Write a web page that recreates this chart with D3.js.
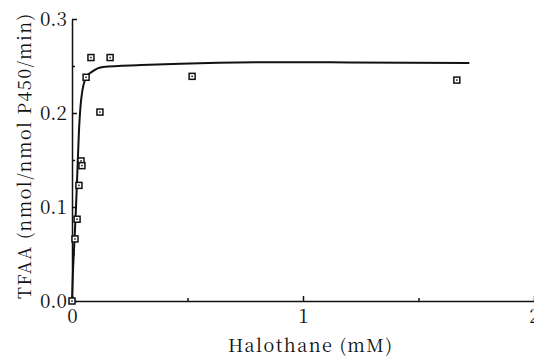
<!DOCTYPE html>
<html>
<head>
<meta charset="utf-8">
<script src="https://cdn.jsdelivr.net/npm/d3@7"></script>
<style>
  body { margin: 0; background: #fff; }
  svg { display: block; }
  .domain, .tick line { stroke: #111; stroke-width: 1.5; }
</style>
</head>
<body>
<div id="chart"></div>
<script>
// Halothane concentration (mM) and TFAA rate for each measured point
var halothane = [0, 0.013, 0.022, 0.030, 0.039, 0.043, 0.061, 0.082, 0.121, 0.165, 0.52, 1.666];
var tfaa = [0, 0.066, 0.087, 0.123, 0.149, 0.144, 0.238, 0.259, 0.201, 0.259, 0.239, 0.235];

// fitted curve
var fitX = [0, 0.004, 0.011, 0.017, 0.022, 0.030, 0.040, 0.061, 0.087, 0.134, 0.30, 0.47, 0.9, 1.2, 1.72];
var fitY = [0, 0.030, 0.066, 0.098, 0.129, 0.180, 0.215, 0.238, 0.244, 0.249, 0.251, 0.2525, 0.254, 0.2538, 0.2533];

var xTicks = [0, 1, 2];
var xMinorTicks = [0.5, 1.5];
var yTicks = [0, 0.1, 0.2, 0.3];
var yMinorTicks = [0.05, 0.15, 0.25];

var svgWidth = 534;
var svgHeight = 356;
var serif = "Noto Serif CJK JP";

var svg = d3.select("#chart")
  .append("svg")
  .attr("width", svgWidth)
  .attr("height", svgHeight);

var xScale = d3.scaleLinear()
  .domain([0, 2])
  .range([72, 534]);

var yScale = d3.scaleLinear()
  .domain([0, 0.3])
  .range([301, 19]);

// bottom axis, ticks pointing up into the plot
var xAxisG = svg.append("g")
  .attr("transform", `translate(0, ${yScale(0)})`)
  .call(d3.axisBottom(xScale).tickValues(xTicks).tickFormat(d3.format("d"))
    .tickSizeInner(-5).tickSizeOuter(0).tickPadding(8));
xAxisG.attr("font-family", serif).attr("font-size", 19);
xAxisG.selectAll("text").attr("fill", "#111");

svg.append("g")
  .attr("transform", `translate(0, ${yScale(0)})`)
  .call(d3.axisBottom(xScale).tickValues(xMinorTicks).tickFormat("")
    .tickSizeInner(-3).tickSizeOuter(0))
  .select(".domain").remove();

// left axis, ticks pointing right
var yAxisG = svg.append("g")
  .attr("transform", `translate(${xScale(0)}, 0)`)
  .call(d3.axisLeft(yScale).tickValues(yTicks).tickFormat(d3.format(".1f"))
    .tickSizeInner(-5).tickSizeOuter(0).tickPadding(5));
yAxisG.attr("font-family", serif).attr("font-size", 19);
yAxisG.selectAll("text").attr("fill", "#111");

svg.append("g")
  .attr("transform", `translate(${xScale(0)}, 0)`)
  .call(d3.axisLeft(yScale).tickValues(yMinorTicks).tickFormat("")
    .tickSizeInner(-3).tickSizeOuter(0))
  .select(".domain").remove();

// axis titles
svg.append("text")
  .attr("font-family", serif)
  .attr("font-size", 18)
  .attr("fill", "#111")
  .attr("x", 228)
  .attr("y", 352)
  .attr("textLength", 164)
  .attr("lengthAdjust", "spacing")
  .text("Halothane (mM)");

svg.append("text")
  .attr("font-family", serif)
  .attr("font-size", 18)
  .attr("fill", "#111")
  .attr("transform", "translate(31, 299) rotate(-90)")
  .attr("textLength", 285)
  .attr("lengthAdjust", "spacing")
  .text("TFAA (nmol/nmol P450/min)");

// fitted line
var fitData = fitX.map((x, i) => ({x: x, y: fitY[i]}));
var drawLine = d3.line()
  .x(d => xScale(d.x))
  .y(d => yScale(d.y))
  .curve(d3.curveMonotoneX);

svg.append("path")
  .attr("d", drawLine(fitData))
  .attr("fill", "none")
  .attr("stroke", "#111")
  .attr("stroke-width", 2);

// square markers with a dot in the middle
var points = halothane.map((x, i) => ({x: x, y: tfaa[i]}));
var marks = svg.selectAll(".pt")
  .data(points)
  .enter()
  .append("g")
  .attr("class", "pt")
  .attr("transform", d => `translate(${xScale(d.x)}, ${yScale(d.y)})`);

marks.append("rect")
  .attr("x", -3)
  .attr("y", -3)
  .attr("width", 6)
  .attr("height", 6)
  .attr("fill", "#fff")
  .attr("stroke", "#111")
  .attr("stroke-width", 1.5);

marks.append("rect")
  .attr("x", -0.75)
  .attr("y", -0.75)
  .attr("width", 1.5)
  .attr("height", 1.5)
  .attr("fill", "#111");
</script>
</body>
</html>
